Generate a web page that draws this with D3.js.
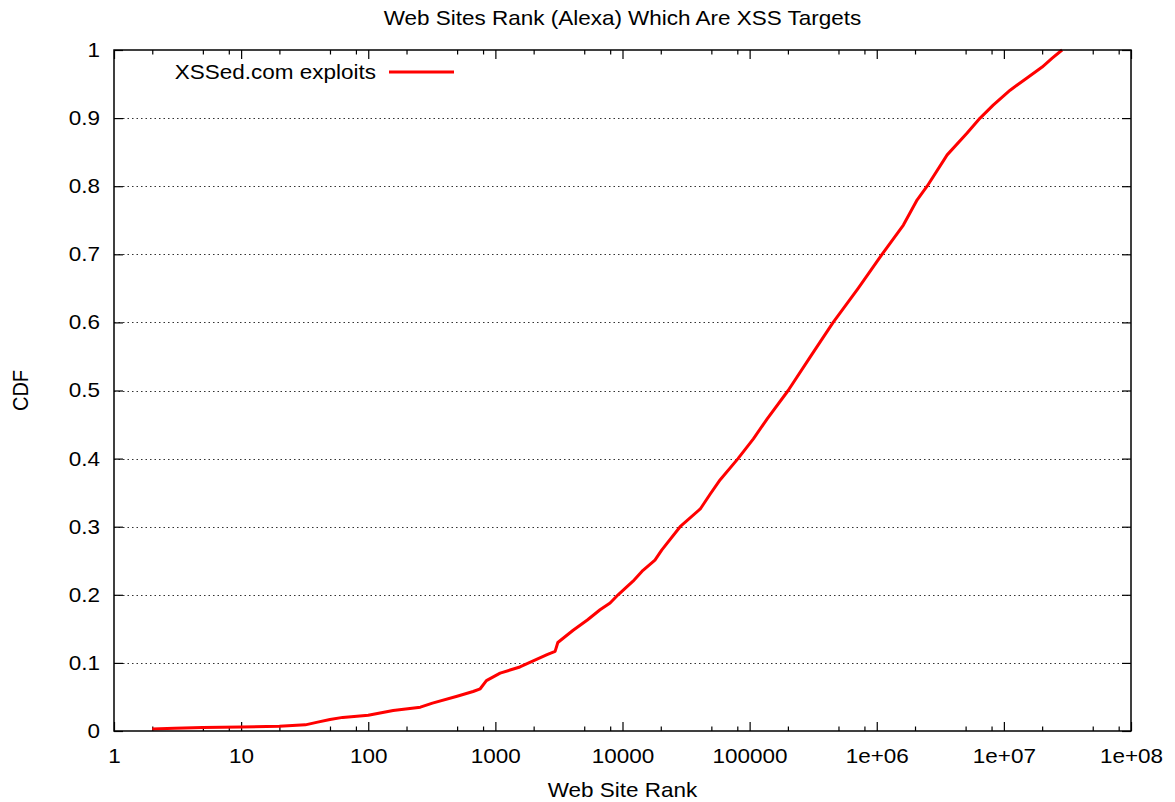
<!DOCTYPE html>
<html>
<head>
<meta charset="utf-8">
<script src="https://cdn.jsdelivr.net/npm/d3@7"></script>
<style>
  html, body { margin: 0; padding: 0; background: #fff; }
  svg { display: block; }
  text { font-family: "Liberation Sans", Arial, sans-serif; fill: #000; }
</style>
</head>
<body>
<svg id="chart" width="1175" height="802"></svg>
<script>
// ---- data ----
const ranks = [2, 3, 5, 10, 20, 32, 40, 50, 63, 100, 157, 257, 320, 500, 668, 760, 850,
  1090, 1560, 2550, 2950, 3100, 4090, 5290, 6660, 7990, 9230, 12100, 14500, 18000, 20400,
  28400, 40900, 49000, 58700, 81000, 107000, 137000, 201000, 299000, 454000, 714000,
  1100000, 1620000, 2080000, 2490000, 3580000, 5140000, 6500000, 8240000, 11200000,
  15200000, 20000000, 24000000, 28700000];
const cdf = [0.003, 0.004, 0.005, 0.006, 0.007, 0.009, 0.013, 0.017, 0.020, 0.023, 0.030,
  0.035, 0.041, 0.051, 0.058, 0.062, 0.074, 0.085, 0.094, 0.112, 0.117, 0.130, 0.148, 0.163,
  0.178, 0.188, 0.200, 0.220, 0.236, 0.251, 0.266, 0.300, 0.326, 0.348, 0.369, 0.400, 0.429,
  0.458, 0.500, 0.549, 0.600, 0.650, 0.700, 0.743, 0.780, 0.800, 0.846, 0.878, 0.900, 0.919,
  0.941, 0.959, 0.975, 0.988, 1.000];
const seriesName = "XSSed.com exploits";
const xMajorTicks = [1, 10, 100, 1000, 10000, 100000, 1e6, 1e7, 1e8];
const xTickLabels = ["1", "10", "100", "1000", "10000", "100000", "1e+06", "1e+07", "1e+08"];
const xMinorMultipliers = [2, 5, 8];
const yTicks = [0, 0.1, 0.2, 0.3, 0.4, 0.5, 0.6, 0.7, 0.8, 0.9, 1];
const yTickLabels = ["0", "0.1", "0.2", "0.3", "0.4", "0.5", "0.6", "0.7", "0.8", "0.9", "1"];
const title = "Web Sites Rank (Alexa) Which Are XSS Targets";
const xLabel = "Web Site Rank";
const yLabel = "CDF";

// ---- layout ----
const L = 114, R = 1131, T = 50, B = 731;
const SX = 1.125; // horizontal text stretch seen in the reference
const FS = 20;

const svg = d3.select("#chart");
const x = d3.scaleLog().domain([1, 1e8]).range([L, R]);
const y = d3.scaleLinear().domain([0, 1]).range([B, T]);

const xMinor = [];
for (let d = 1; d < 1e8; d *= 10) xMinorMultipliers.forEach(m => xMinor.push(d * m));

// grid
svg.append("g").selectAll("line").data(yTicks.filter(v => v > 0 && v < 1)).join("line")
  .attr("x1", L).attr("x2", R)
  .attr("y1", d => Math.round(y(d)) + 0.5).attr("y2", d => Math.round(y(d)) + 0.5)
  .attr("stroke", "#333").attr("stroke-width", 1).attr("stroke-dasharray", "1.5,3");

// axes ticks
function styleAxis(g) { g.select(".domain").remove(); g.selectAll("line").attr("stroke", "#000").attr("stroke-width", 1.2); }

const xAxis = svg.append("g").attr("transform", `translate(0,${B})`)
  .call(d3.axisBottom(x).tickValues(xMajorTicks).tickSize(-9).tickPadding(18)
    .tickFormat((d, i) => xTickLabels[i]));
styleAxis(xAxis);
xAxis.selectAll("text").attr("font-size", FS).attr("font-family", "Liberation Sans, Arial, sans-serif")
  .attr("fill", "#000").attr("transform", `scale(${SX},1)`);

svg.append("g").attr("transform", `translate(0,${B})`)
  .call(d3.axisBottom(x).tickValues(xMinor).tickSize(-4.5).tickFormat(""))
  .call(styleAxis);
svg.append("g").attr("transform", `translate(0,${T})`)
  .call(d3.axisTop(x).tickValues(xMajorTicks).tickSize(-9).tickFormat(""))
  .call(styleAxis);
svg.append("g").attr("transform", `translate(0,${T})`)
  .call(d3.axisTop(x).tickValues(xMinor).tickSize(-4.5).tickFormat(""))
  .call(styleAxis);

const yAxis = svg.append("g").attr("transform", `translate(${L},0)`)
  .call(d3.axisLeft(y).tickValues(yTicks).tickSize(-9).tickPadding(14)
    .tickFormat((d, i) => yTickLabels[i]));
styleAxis(yAxis);
yAxis.selectAll("text").attr("font-size", FS).attr("font-family", "Liberation Sans, Arial, sans-serif")
  .attr("fill", "#000").attr("x", -14 / SX).attr("transform", `scale(${SX},1)`);

svg.append("g").attr("transform", `translate(${R},0)`)
  .call(d3.axisRight(y).tickValues(yTicks).tickSize(-9).tickFormat(""))
  .call(styleAxis);

// curve
const line = d3.line().x((d, i) => x(ranks[i])).y(d => y(d));
svg.append("path").datum(cdf).attr("d", line)
  .attr("fill", "none").attr("stroke", "#ff0000").attr("stroke-width", 3)
  .attr("stroke-linejoin", "round");

// border
svg.append("rect").attr("x", L).attr("y", T).attr("width", R - L).attr("height", B - T)
  .attr("fill", "none").attr("stroke", "#000").attr("stroke-width", 1.5);

// legend
svg.append("text").attr("transform", `translate(376,79) scale(${SX},1)`)
  .attr("text-anchor", "end").attr("font-size", FS).text(seriesName);
svg.append("line").attr("x1", 389).attr("x2", 454).attr("y1", 72).attr("y2", 72)
  .attr("stroke", "#ff0000").attr("stroke-width", 3);

// title & axis labels
svg.append("text").attr("transform", `translate(${(L + R) / 2},25) scale(${SX},1)`)
  .attr("text-anchor", "middle").attr("font-size", FS).text(title);
svg.append("text").attr("transform", `translate(${(L + R) / 2},797) scale(${SX},1)`)
  .attr("text-anchor", "middle").attr("font-size", FS).text(xLabel);
svg.append("text").attr("transform", `translate(28,${(T + B) / 2}) scale(${SX},1) rotate(-90)`)
  .attr("text-anchor", "middle").attr("font-size", FS).text(yLabel);
</script>
</body>
</html>
